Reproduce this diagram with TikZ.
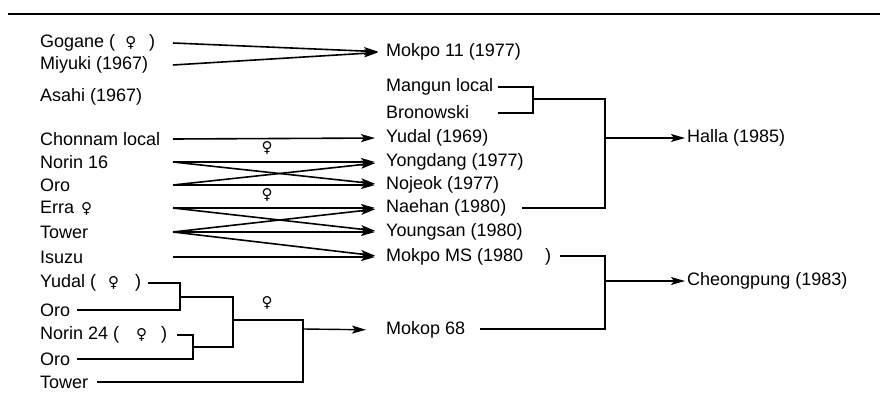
\documentclass[tikz,border=0pt]{standalone}
\usepackage{fontspec}
\setmainfont{Liberation Sans}
\newfontfamily\symfont{DejaVu Sans}
\usetikzlibrary{arrows.meta,calc}
\newcommand\femsym{{\symfont\fontsize{15}{16}\selectfont ♀}}
\begin{document}
\begin{tikzpicture}[x=1pt,y=-1pt,
  lbl/.style={anchor=west,inner sep=0pt,font=\fontsize{18}{20}\selectfont},
  ln/.style={line width=1.4pt},
  arr/.style={line width=1.6pt,-{Stealth[length=14pt,width=8pt,inset=3pt]},shorten >=11pt},
  fem/.style={inner sep=0pt,font=\symfont\fontsize{15}{16}\selectfont},
]
\useasboundingbox (0,0) rectangle (880,401);
\draw[line width=2.2pt] (8,14) -- (880,14);

% left column
\node[lbl] (gog)  at (40,43)  {Gogane (\hspace{10pt}\femsym\hspace{13pt})};
\node[lbl] (miy)  at (40,65)  {Miyuki (1967)};
\node[lbl] (asa)  at (40,97)  {Asahi (1967)};
\node[lbl] (cho)  at (40,139) {Chonnam local};
\node[lbl] (n16)  at (40,162) {Norin 16};
\node[lbl] (oro1) at (40,185) {Oro};
\node[lbl] (erra) at (40,208) {Erra\hspace{7pt}\femsym};
\node[lbl] (tow1) at (40,232) {Tower};
\node[lbl] (isu)  at (40,257) {Isuzu};
\node[lbl] (yud)  at (40,283) {Yudal (\hspace{12pt}\femsym\hspace{16pt})};
\node[lbl] (oro2) at (40,310) {Oro};
\node[lbl] (n24)  at (40,335) {Norin 24 (\hspace{17pt}\femsym\hspace{14pt})};
\node[lbl] (oro3) at (40,359) {Oro};
\node[lbl] (tow2) at (40,382) {Tower};

% middle column
\node[lbl] (mk11)  at (386,52)  {Mokpo 11 (1977)};
\node[lbl] (mang)  at (386,87)  {Mangun local};
\node[lbl] (bron)  at (386,112) {Bronowski};
\node[lbl] (yud69) at (386,138) {Yudal (1969)};
\node[lbl] (yong)  at (386,162) {Yongdang (1977)};
\node[lbl] (noj)   at (386,185) {Nojeok (1977)};
\node[lbl] (nae)   at (386,208) {Naehan (1980)};
\node[lbl] (youn)  at (386,232) {Youngsan (1980)};
\node[lbl] (mms)   at (386,257) {Mokpo MS (1980\hspace{22pt})};
\node[lbl] (m68)   at (386,330) {Mokop 68};

% right column
\node[lbl] (halla)  at (687,138) {Halla (1985)};
\node[lbl] (cheong) at (687,281) {Cheongpung (1983)};

% female symbols on crossings
\node[fem] (f1) at (267,148) {♀};
\node[fem] (f2) at (267,195) {♀};
\node[fem] (f3) at (267,303) {♀};

% line start points
\coordinate (gogS)  at (173,43);
\coordinate (miyS)  at (173,65);
\coordinate (choS)  at (173,139);
\coordinate (n16S)  at (173,162);
\coordinate (oro1S) at (173,185);
\coordinate (erraS) at (173,208);
\coordinate (tow1S) at (173,232);
\coordinate (isuS)  at (173,257);
\coordinate (yudS)  at (148,283);
\coordinate (oro2S) at (77,310);
\coordinate (n24S)  at (177,335);
\coordinate (oro3S) at (77,359);
\coordinate (tow2S) at (97,382);
\coordinate (mangS) at (498,87);
\coordinate (bronS) at (498,113);
\coordinate (naeS)  at (522,208);
\coordinate (mmsS)  at (560,256);
\coordinate (m68S)  at (480,329);

% junctions
\coordinate (j1) at (533,99);
\coordinate (j2) at (605,99);
\coordinate (j3) at (605,138);
\coordinate (j4) at (605,281);
\coordinate (j5) at (180,297);
\coordinate (j7) at (193,347);
\coordinate (j8) at (233,320);
\coordinate (j9) at (303,320);
\coordinate (j10) at (303,329);

% arrows to middle column
\draw[arr,shorten >=8pt] (gogS) -- (mk11.west);
\draw[arr,shorten >=8pt] (miyS) -- (mk11.west);
\draw[arr] (choS) -- (yud69.west);
\draw[arr] (n16S) -- (yong.west);
\draw[arr] (n16S) -- (noj.west);
\draw[arr] (oro1S) -- (yong.west);
\draw[arr] (oro1S) -- (noj.west);
\draw[arr] (erraS) -- (nae.west);
\draw[arr] (erraS) -- (youn.west);
\draw[arr] (tow1S) -- (nae.west);
\draw[arr] (tow1S) -- (youn.west);
\draw[arr] (tow1S) -- (mms.west);
\draw[arr] (isuS) -- (mms.west);

% Halla bracket
\draw[ln] (mangS) -| (j1) |- (bronS);
\draw[ln] (j1) -- (j2) |- (naeS);
\draw[arr,line width=1.4pt,shorten >=2pt] (j3) -- (halla.west);

% Cheongpung bracket
\draw[ln] (mmsS) -| (j4) |- (m68S);
\draw[arr,line width=1.4pt,shorten >=2pt] (j4) -- (cheong.west);

% lower-left brackets
\draw[ln] (yudS) -| (j5) |- (oro2S);
\draw[ln] (n24S) -| (j7) |- (oro3S);
\draw[ln] (j5) -| (j8) |- (j7);
\draw[ln] (j8) -- (j9) |- (tow2S);
\draw[arr,line width=1.4pt,shorten >=20pt] (j10) -- (m68.west);
\end{tikzpicture}
\end{document}
